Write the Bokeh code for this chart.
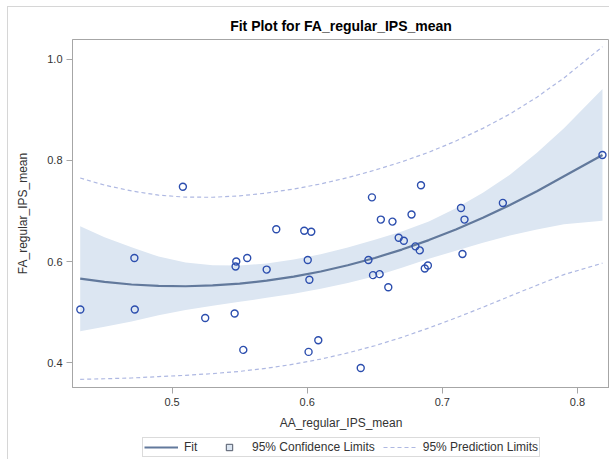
from bokeh.plotting import figure
from bokeh.layouts import column
from bokeh.models import ColumnDataSource, FixedTicker, Legend, LegendItem, Range1d
from bokeh.embed import file_html
from bokeh.resources import INLINE

# ---- data ----
obs_x = [0.4321, 0.4721, 0.4724, 0.5080, 0.5475, 0.5470, 0.5556, 0.5771, 0.5700,
         0.5978, 0.6030, 0.6004, 0.6016, 0.6453, 0.6479, 0.6487, 0.6536, 0.6545,
         0.6631, 0.6600, 0.6677, 0.6715, 0.6772, 0.6842, 0.6801, 0.6833, 0.6870,
         0.6893, 0.7138, 0.7164, 0.7149, 0.7448, 0.8185, 0.5245, 0.5463, 0.5527,
         0.6010, 0.6082, 0.6396]
obs_y = [0.505, 0.607, 0.505, 0.748, 0.600, 0.590, 0.607, 0.664, 0.584,
         0.661, 0.659, 0.603, 0.564, 0.603, 0.727, 0.573, 0.575, 0.683,
         0.679, 0.549, 0.647, 0.641, 0.693, 0.751, 0.630, 0.622, 0.586,
         0.592, 0.706, 0.683, 0.615, 0.716, 0.811, 0.488, 0.497, 0.425,
         0.421, 0.444, 0.389]

curve_x = [0.432, 0.45, 0.47, 0.49, 0.51, 0.53, 0.55, 0.57, 0.59, 0.61,
           0.63, 0.65, 0.67, 0.69, 0.71, 0.73, 0.75, 0.77, 0.79, 0.8185]
fit_y = [0.566, 0.5595, 0.5545, 0.5517, 0.551, 0.5526, 0.5562, 0.5621, 0.5701, 0.5802,
         0.5925, 0.607, 0.6236, 0.6424, 0.6634, 0.6865, 0.7117, 0.7392, 0.7688, 0.811]
cl_lower = [0.462, 0.471, 0.481, 0.4937, 0.504, 0.5126, 0.5202, 0.5281, 0.5361, 0.5462,
            0.5575, 0.571, 0.5876, 0.6054, 0.6214, 0.637, 0.6517, 0.6632, 0.6738, 0.6805]
cl_upper = [0.670, 0.648, 0.628, 0.6097, 0.598, 0.5926, 0.5922, 0.5961, 0.6041, 0.6142,
            0.6275, 0.643, 0.6596, 0.6794, 0.7054, 0.736, 0.7717, 0.8152, 0.8638, 0.9415]
pl_lower = [0.3667, 0.3678, 0.3693, 0.3721, 0.3746, 0.378, 0.3824, 0.3887, 0.3967, 0.4068,
            0.4189, 0.4332, 0.4498, 0.4684, 0.4883, 0.5094, 0.5314, 0.553, 0.5741, 0.5967]
pl_upper = [0.7653, 0.7512, 0.7397, 0.7313, 0.7274, 0.7272, 0.730, 0.7355, 0.7435, 0.7536,
            0.7661, 0.7808, 0.7974, 0.8164, 0.8385, 0.8636, 0.892, 0.9254, 0.9635, 1.0253]

x_ticks = [0.5, 0.6, 0.7, 0.8]
x_tick_labels = ["0.5", "0.6", "0.7", "0.8"]
y_ticks = [0.4, 0.6, 0.8, 1.0]
y_tick_labels = ["0.4", "0.6", "0.8", "1.0"]

title_text = "Fit Plot for FA_regular_IPS_mean"
x_label = "AA_regular_IPS_mean"
y_label = "FA_regular_IPS_mean"
legend_labels = ["Fit", "95% Confidence Limits", "95% Prediction Limits"]

FONT = "Liberation Sans"
AXIS_GRAY = "#A6A6A6"
FIT_COLOR = "#62799C"
BAND_COLOR = "#DCE6F2"
PL_COLOR = "#AEB8E2"
MARK_COLOR = "#2C4EAE"

curves = ColumnDataSource(dict(x=curve_x, fit=fit_y, cll=cl_lower, clu=cl_upper,
                               pll=pl_lower, plu=pl_upper))
points = ColumnDataSource(dict(x=obs_x, y=obs_y))

p = figure(width=601, height=426, output_backend="svg", toolbar_location=None,
           x_range=Range1d(0.4263, 0.8237), y_range=Range1d(0.3505, 1.0396),
           min_border_left=64, min_border_right=0, min_border_top=32, min_border_bottom=46)

p.title.text = title_text
p.title.align = "center"
p.title.text_font = FONT
p.title.text_font_size = "14px"
p.title.text_font_style = "bold"
p.title.text_color = "#000000"
p.title.standoff = 11

p.xgrid.visible = False
p.ygrid.visible = False
p.outline_line_color = AXIS_GRAY
p.outline_line_width = 1
p.background_fill_color = "white"
p.border_fill_color = "white"

p.varea(x="x", y1="cll", y2="clu", source=curves, fill_color=BAND_COLOR, fill_alpha=1.0)
p.line(x="x", y="pll", source=curves, line_color=PL_COLOR, line_width=1.2, line_dash="4 3")
p.line(x="x", y="plu", source=curves, line_color=PL_COLOR, line_width=1.2, line_dash="4 3")
p.line(x="x", y="fit", source=curves, line_color=FIT_COLOR, line_width=2.2)
p.scatter(x="x", y="y", source=points, marker="circle", size=7,
          line_color=MARK_COLOR, line_width=1.4, fill_alpha=0)

for ax, ticks, labels, lab in ((p.xaxis[0], x_ticks, x_tick_labels, x_label),
                               (p.yaxis[0], y_ticks, y_tick_labels, y_label)):
    ax.ticker = FixedTicker(ticks=ticks)
    ax.major_label_overrides = {t: l for t, l in zip(ticks, labels)}
    ax.minor_tick_line_color = None
    ax.major_tick_in = 0
    ax.major_tick_out = 6
    ax.major_tick_line_color = AXIS_GRAY
    ax.axis_line_color = AXIS_GRAY
    ax.major_label_text_font = FONT
    ax.major_label_text_font_size = "11px"
    ax.major_label_text_color = "#333333"
    ax.axis_label = lab
    ax.axis_label_text_font = FONT
    ax.axis_label_text_font_size = "12px"
    ax.axis_label_text_font_style = "normal"
    ax.axis_label_text_color = "#333333"

p.xaxis[0].major_label_standoff = 4
p.xaxis[0].axis_label_standoff = 7
p.yaxis[0].major_label_standoff = 4
p.yaxis[0].axis_label_standoff = 14

# ---- legend strip below the plot (placeholder renderers hold no visible data) ----
lg = figure(width=601, height=26, output_backend="svg", toolbar_location=None,
            x_range=Range1d(0, 1), y_range=Range1d(0, 1), min_border=0)
lg.axis.visible = False
lg.grid.visible = False
lg.outline_line_color = None
lg.background_fill_color = "white"
lg.border_fill_color = "white"
nan = float("nan")
placeholder = ColumnDataSource(dict(x=[nan], y=[nan]))
fit_key = lg.line(x="x", y="y", source=placeholder, line_color=FIT_COLOR, line_width=2.2)
band_key = lg.scatter(x="x", y="y", source=placeholder, marker="square", size=8,
                      fill_color=BAND_COLOR, line_color="#505868", line_width=1)
pl_key = lg.line(x="x", y="y", source=placeholder, line_color=PL_COLOR, line_width=1.2,
                 line_dash="4 3")

legend = Legend(items=[LegendItem(label=legend_labels[0], renderers=[fit_key]),
                       LegendItem(label=legend_labels[1], renderers=[band_key]),
                       LegendItem(label=legend_labels[2], renderers=[pl_key])],
                orientation="horizontal", location=(70, 2),
                glyph_width=34, glyph_height=16, label_height=16,
                label_standoff=6, spacing=8, padding=1, margin=0,
                label_text_font=FONT, label_text_font_size="12px",
                label_text_color="#333333",
                border_line_color="#B8B8B8", border_line_width=1,
                background_fill_color="white", background_fill_alpha=1.0)
lg.add_layout(legend, "center")

layout = column(p, lg, spacing=0,
                styles={"margin-left": "7px", "margin-top": "6px",
                        "border-left": "1px solid #D6D6D6",
                        "border-top": "1px solid #D6D6D6"})

open("out.html", "w").write(file_html(layout, INLINE))
